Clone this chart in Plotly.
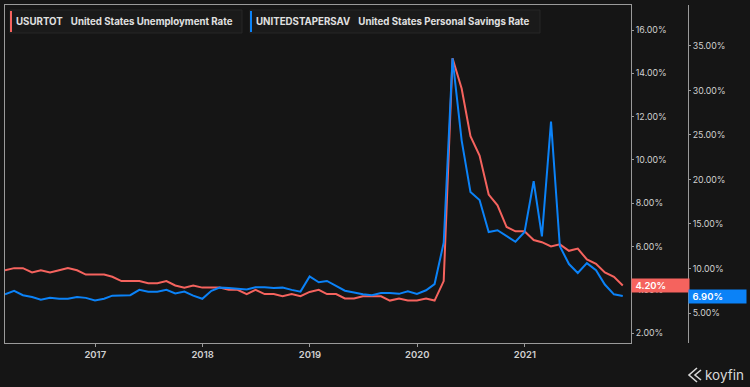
import pandas as pd
import plotly.graph_objects as go

# ---- data ----
dates = pd.date_range("2016-02-29", periods=70, freq="ME")

unemployment = [
    4.9, 5.0, 5.0, 4.8, 4.9, 4.8, 4.9, 5.0, 4.9, 4.7, 4.7,
    4.7, 4.6, 4.4, 4.4, 4.4, 4.3, 4.3, 4.4, 4.2, 4.1, 4.2, 4.1,
    4.1, 4.1, 4.0, 4.0, 3.8, 4.0, 3.8, 3.8, 3.7, 3.8, 3.7, 3.9,
    4.0, 3.8, 3.8, 3.6, 3.6, 3.7, 3.7, 3.7, 3.5, 3.6, 3.5, 3.5,
    3.6, 3.5, 4.4, 14.7, 13.3, 11.1, 10.2, 8.4, 7.9, 6.9, 6.7, 6.7,
    6.3, 6.2, 6.0, 6.1, 5.8, 5.9, 5.4, 5.2, 4.8, 4.6, 4.2,
]

savings = [
    7.1, 7.5, 7.0, 6.8, 6.5, 6.7, 6.6, 6.6, 6.8, 6.7, 6.4,
    6.6, 6.95, 6.95, 7.0, 7.6, 7.4, 7.4, 7.6, 7.2, 7.4, 6.95, 6.6,
    7.5, 7.85, 7.8, 7.7, 7.65, 7.9, 7.9, 7.8, 7.85, 7.6, 7.4, 9.1,
    8.45, 8.6, 8.0, 7.5, 7.3, 7.1, 7.0, 7.25, 7.25, 7.15, 7.45, 7.15,
    7.55, 8.25, 12.9, 33.6, 24.4, 18.6, 17.7, 14.1, 14.3, 13.6, 13.0, 14.1,
    19.8, 13.6, 26.5, 12.5, 10.5, 9.5, 10.6, 9.8, 8.2, 7.1, 6.9,
]

series = [
    ("USURTOT", "United States Unemployment Rate"),
    ("UNITEDSTAPERSAV", "United States Personal Savings Rate"),
]

RED = "#f5635e"
BLUE = "#0b82f7"
BG = "#151515"
GRID = "#9a9a9a"
TXT = "#d0d0d0"
FONT = "Inter"

W, H = 750, 387
x0px, x1px, y0px, y1px = 5, 631, 5, 343
xdom = [x0px / W, x1px / W]
ydom = [(H - y1px) / H, (H - y0px) / H]

fig = go.Figure()
fig.add_trace(go.Scatter(x=dates, y=unemployment, mode="lines",
                         line=dict(color=RED, width=2), yaxis="y"))
fig.add_trace(go.Scatter(x=dates, y=savings, mode="lines",
                         line=dict(color=BLUE, width=2), yaxis="y2"))

fig.update_layout(
    width=W, height=H,
    paper_bgcolor=BG, plot_bgcolor=BG,
    margin=dict(l=0, r=0, t=0, b=0, autoexpand=False),
    showlegend=False,
    font=dict(family=FONT, color=TXT, size=10),
    xaxis=dict(
        domain=xdom, range=["2016-02-29", "2021-12-28"], automargin=False,
        showgrid=False, zeroline=False,
        showline=True, mirror=True, linecolor=GRID, linewidth=1,
        ticks="outside", ticklen=3, tickcolor=GRID,
        dtick="M12", tick0="2017-01-01", tickformat="%Y",
        tickfont=dict(family=FONT, size=9.5, color=TXT, weight=600),
    ),
    yaxis=dict(
        domain=ydom, range=[1.54, 17.16], side="right", automargin=False,
        showgrid=False, zeroline=False,
        showline=True, mirror=True, linecolor=GRID, linewidth=1,
        ticks="outside", ticklen=2, tickcolor=GRID,
        tick0=2, dtick=2, tickformat=".2f", ticksuffix="%",
        tickfont=dict(family=FONT, size=8.8, color=TXT),
    ),
    yaxis2=dict(
        domain=ydom, range=[1.63, 39.6], overlaying="y", side="right",
        anchor="free", position=688 / W, automargin=False,
        showgrid=False, zeroline=False,
        showline=True, linecolor=GRID, linewidth=1,
        ticks="outside", ticklen=2, tickcolor=GRID,
        tick0=5, dtick=5, tickformat=".2f", ticksuffix="%",
        tickfont=dict(family=FONT, size=8.8, color=TXT),
    ),
)

# ---- legend boxes ----
legend_boxes = [(10, 242, RED), (250, 540, BLUE)]
shapes = []
annotations = []
for (code, name), (bx0, bx1, col) in zip(series, legend_boxes):
    shapes.append(dict(type="rect", xref="paper", yref="paper",
                       x0=bx0 / W, x1=bx1 / W, y0=1 - 33 / H, y1=1 - 10 / H,
                       fillcolor="#1a1a1a", line=dict(color="#262626", width=1)))
    shapes.append(dict(type="rect", xref="paper", yref="paper",
                       x0=bx0 / W, x1=(bx0 + 2) / W, y0=1 - 32 / H, y1=1 - 11 / H,
                       fillcolor=col, line=dict(width=0)))
    annotations.append(dict(
        xref="paper", yref="paper", x=(bx0 + 4) / W, y=1 - 21.5 / H,
        xanchor="left", yanchor="middle", showarrow=False,
        text=f"<b>{code}</b>&nbsp;&nbsp;&nbsp;<b>{name}</b>",
        font=dict(family=FONT, size=9.7, color="#e0e0e0"),
    ))

# ---- last value labels ----
annotations.append(dict(
    xref="paper", yref="y", x=x1px / W, y=unemployment[-1],
    xanchor="left", yanchor="middle", showarrow=False,
    text=f"&nbsp;{unemployment[-1]:.2f}%", align="left",
    width=55, height=11, borderpad=1, bgcolor=RED,
    font=dict(family=FONT, size=9.5, color="#ffffff", weight=600),
))
annotations.append(dict(
    xref="paper", yref="y2", x=688 / W, y=savings[-1],
    xanchor="left", yanchor="middle", showarrow=False,
    text=f"&nbsp;{savings[-1]:.2f}%", align="left",
    width=55, height=11, borderpad=1, bgcolor=BLUE,
    font=dict(family=FONT, size=9.5, color="#ffffff", weight=600),
))

# ---- koyfin logo ----
logo_col = "#d8d8d8"
def px(x, y):
    return f"{x / W},{1 - y / H}"
shapes.append(dict(type="path", xref="paper", yref="paper",
                   path=f"M{px(697,368)} L{px(689,375)} L{px(697,382)}",
                   line=dict(color=logo_col, width=1.6)))
shapes.append(dict(type="path", xref="paper", yref="paper",
                   path=f"M{px(701,370)} L{px(695,375)} L{px(701,380)}",
                   line=dict(color=logo_col, width=1.6)))
annotations.append(dict(
    xref="paper", yref="paper", x=703 / W, y=1 - 375 / H,
    xanchor="left", yanchor="middle", showarrow=False,
    text="koyfin", font=dict(family=FONT, size=13.5, color=logo_col),
))

fig.update_layout(shapes=shapes, annotations=annotations)
fig.write_html(
    "out.html",
    config={"displayModeBar": False},
    post_script="document.body.style.margin='0px';"
                "document.body.style.background='#151515';"
                "document.body.style.overflow='hidden';",
)
